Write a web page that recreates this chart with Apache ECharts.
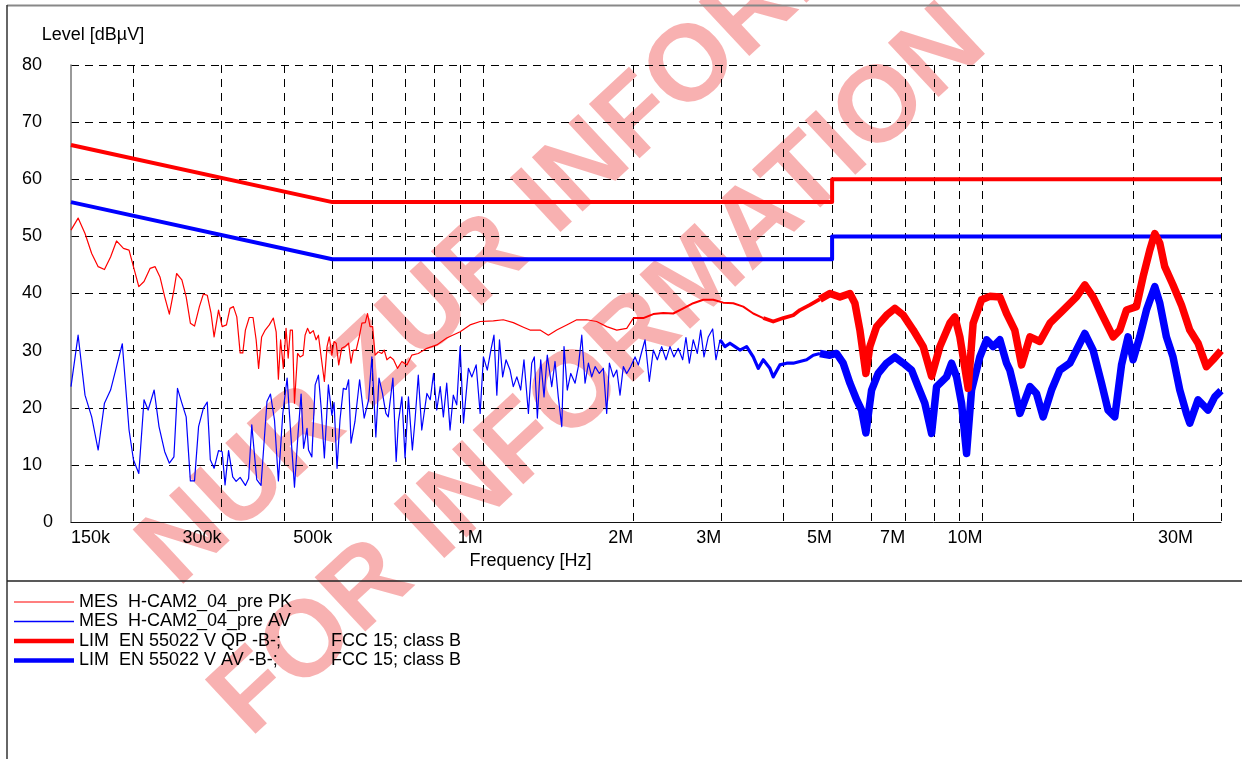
<!DOCTYPE html>
<html>
<head>
<meta charset="utf-8">
<script src="https://cdn.jsdelivr.net/npm/echarts/dist/echarts.min.js"></script>
<style>html,body{margin:0;padding:0;background:#fff}#c{width:1242px;height:759px}</style>
</head>
<body>
<div id="c"></div>
<script>
// ---------- data (frequency in MHz, level in dBµV) ----------
const pkFreq = [0.150,0.155,0.160,0.165,0.170,0.175,0.180,0.185,0.191,0.196,0.200,0.205,0.210,0.216,0.221,0.226,0.231,0.236,0.241,0.244,0.250,0.255,0.260,0.265,0.271,0.276,0.281,0.286,0.290,0.296,0.301,0.307,0.312,0.317,0.322,0.327,0.331,0.335,0.341,0.347,0.352,0.356,0.361,0.367,0.374,0.381,0.386,0.390,0.394,0.399,0.404,0.408,0.412,0.416,0.420,0.426,0.431,0.437,0.441,0.446,0.451,0.458,0.464,0.469,0.474,0.482,0.488,0.493,0.499,0.504,0.509,0.515,0.522,0.530,0.539,0.545,0.551,0.558,0.566,0.573,0.582,0.588,0.595,0.602,0.609,0.618,0.628,0.635,0.643,0.653,0.663,0.675,0.689,0.705,0.721,0.743,0.773,0.809,0.847,0.901,0.943,0.988,1.050,1.099,1.151,1.206,1.243,1.302,1.353,1.406,1.472,1.542,1.614,1.690,1.770,1.854,1.941,2.001,2.095,2.194,2.297,2.405,2.519,2.637,2.762,2.892,3.028,3.171,3.320,3.477,3.641,3.812,3.992,4.180,4.311,4.514,4.727,4.950,5.183,5.428,5.554,5.683,5.842,5.950,6.138,6.427,6.678,6.939,7.266,7.608,7.907,8.215,8.603,8.803,9.008,9.359,9.576,9.954,10.34,10.83,11.17,11.60,11.97,12.44,13.02,13.64,14.50,15.42,16.02,16.64,17.43,18.25,18.82,19.41,20.32,20.96,21.61,22.11,22.63,23.15,24.05,25.00,25.98,26.99,28.05,28.92,30.00];
const pkLevel = [51.1,53.2,50.5,47.0,44.7,44.2,46.4,49.2,47.9,47.6,44.7,41.2,42.1,44.4,44.7,42.9,39.4,36.4,40.6,43.5,42.4,39.4,34.8,34.3,37.7,39.9,39.7,36.5,32.4,37.1,34.2,34.5,37.4,37.7,35.9,29.6,29.6,33.6,35.8,35.8,31.9,26.9,32.4,33.6,34.5,35.7,33.3,25.0,31.9,26.9,33.9,28.7,33.6,33.6,20.8,29.5,28.9,29.2,32.7,33.9,33.0,33.5,31.9,32.7,29.5,24.6,30.7,32.4,29.2,31.6,31.3,27.5,30.4,30.7,31.3,27.8,30.1,30.1,32.4,34.8,34.9,36.5,34.2,34.2,29.2,29.8,29.5,30.1,28.4,28.9,28.4,26.9,28.1,27.5,29.2,29.5,30.4,31.0,32.2,33.3,34.5,35.1,35.2,35.4,34.9,34.1,33.6,33.6,32.7,33.6,34.5,35.4,35.4,35.1,34.2,33.6,33.9,35.7,35.7,36.4,36.6,36.5,37.4,38.3,38.9,38.9,38.4,38.3,37.7,36.5,35.7,35.1,35.7,36.2,37.1,38.0,39.0,40.0,39.4,40.0,38.3,33.6,26.0,30.7,34.2,36.2,37.4,36.2,33.6,30.7,25.5,30.7,34.8,35.9,32.4,23.4,34.8,38.9,39.5,39.4,36.5,33.6,27.5,32.4,31.6,34.8,37.1,39.4,41.5,39.4,35.9,32.4,33.6,37.1,37.7,43.0,47.6,50.5,48.8,44.7,41.5,38.0,33.6,31.3,27.2,28.4,30.0];

const avFreq = [0.150,0.155,0.160,0.165,0.170,0.175,0.180,0.185,0.190,0.196,0.200,0.205,0.210,0.214,0.220,0.225,0.231,0.236,0.241,0.245,0.250,0.255,0.260,0.265,0.270,0.276,0.281,0.285,0.290,0.296,0.301,0.305,0.310,0.316,0.321,0.327,0.335,0.340,0.345,0.353,0.360,0.370,0.376,0.383,0.390,0.398,0.406,0.412,0.420,0.427,0.433,0.438,0.445,0.448,0.455,0.462,0.469,0.475,0.482,0.491,0.499,0.504,0.511,0.518,0.526,0.533,0.539,0.545,0.555,0.567,0.579,0.591,0.600,0.611,0.620,0.630,0.640,0.647,0.661,0.671,0.678,0.689,0.699,0.710,0.723,0.732,0.743,0.755,0.773,0.785,0.797,0.809,0.822,0.834,0.847,0.860,0.873,0.887,0.901,0.915,0.936,0.951,0.970,0.988,1.003,1.021,1.038,1.053,1.067,1.080,1.096,1.113,1.134,1.151,1.170,1.191,1.209,1.234,1.253,1.268,1.286,1.306,1.326,1.346,1.374,1.395,1.416,1.439,1.454,1.476,1.500,1.530,1.553,1.578,1.602,1.627,1.652,1.678,1.711,1.743,1.770,1.792,1.825,1.854,1.882,1.911,1.941,1.977,2.017,2.048,2.080,2.112,2.154,2.194,2.235,2.280,2.326,2.369,2.413,2.461,2.512,2.550,2.590,2.637,2.687,2.729,2.771,2.826,2.884,2.928,2.983,3.052,3.123,3.196,3.270,3.373,3.477,3.558,3.641,3.754,3.812,3.931,4.055,4.180,4.311,4.446,4.584,4.727,4.950,5.105,5.262,5.428,5.598,5.728,5.842,5.998,6.183,6.427,6.678,6.939,7.211,7.431,7.664,7.907,8.091,8.472,8.670,8.872,9.078,9.290,9.506,9.876,10.19,10.50,10.83,11.17,11.34,11.60,11.88,12.44,12.82,13.22,13.74,14.28,14.95,15.42,16.02,16.64,17.30,17.83,18.39,18.97,19.55,20.01,20.63,21.28,22.11,22.63,23.33,24.05,24.81,25.59,25.98,26.99,28.26,29.15,30.00];
const avLevel = [23.7,32.7,22.2,18.4,12.6,20.8,23.1,27.2,31.2,16.1,10.9,8.5,21.4,19.6,23.1,16.7,12.3,10.3,11.4,23.4,20.8,18.4,7.2,7.2,16.7,19.9,21.0,10.9,9.4,12.5,12.3,6.5,12.5,7.9,7.1,7.8,6.4,7.6,17.0,7.4,6.4,21.1,22.4,17.9,7.2,19.0,25.2,16.7,6.1,15.5,22.4,12.9,16.4,12.6,11.4,24.0,25.7,19.9,11.2,24.0,18.7,20.9,9.4,17.9,23.4,23.2,24.9,13.8,17.6,24.9,18.2,21.4,28.9,14.9,25.2,22.5,19.0,18.4,25.2,10.6,17.6,21.9,11.2,21.9,12.6,17.9,25.7,16.1,22.5,21.4,26.0,19.6,23.7,18.4,24.3,16.1,22.2,20.5,30.7,17.3,26.9,25.4,27.5,19.0,28.9,26.6,30.1,32.7,22.2,31.9,25.4,28.4,26.6,23.7,25.4,23.1,28.4,19.0,27.8,28.9,18.2,28.4,21.9,29.2,23.7,28.1,21.9,16.7,30.7,23.1,26.0,24.3,27.2,32.7,24.3,27.8,25.4,27.2,26.0,26.9,19.0,27.8,25.4,26.6,22.2,27.2,26.0,27.2,28.9,27.5,29.8,31.9,24.6,30.1,28.4,30.7,28.4,30.7,28.9,30.4,28.4,32.3,27.8,31.9,29.5,33.6,28.9,32.4,33.8,28.4,31.9,30.7,31.3,30.7,30.1,30.7,28.9,26.9,28.4,26.9,25.4,27.5,27.8,27.8,28.1,28.4,29.2,29.5,29.2,29.5,27.8,24.3,21.4,19.6,15.6,23.1,26.0,27.8,28.9,27.8,26.6,23.7,20.8,15.5,23.7,25.4,27.8,25.4,20.8,12.0,23.1,28.9,31.9,30.7,31.9,27.8,26.6,23.1,19.0,23.7,22.5,18.4,23.1,26.6,27.8,30.1,33.0,30.1,24.3,19.6,18.4,27.5,32.4,28.4,32.4,37.1,41.2,38.3,32.4,28.9,23.1,19.0,17.3,21.4,19.6,21.9,23.0];

const qpLimFreq = [0.15, 0.5, 5, 5, 30];
const qpLimLevel = [66, 56, 56, 60, 60];
const avLimFreq = [0.15, 0.5, 5, 5, 30];
const avLimLevel = [56, 46, 46, 50, 50];

// axis ticks
const gridFreqHz = [2e5,3e5,4e5,5e5,6e5,7e5,8e5,9e5,1e6,2e6,3e6,4e6,5e6,6e6,7e6,8e6,9e6,1e7,2e7,3e7];
const xLabelFreqHz = [3e5,5e5,1e6,2e6,3e6,5e6,7e6,1e7,3e7];
const xLabelText = ['300k','500k','1M','2M','3M','5M','7M','10M','30M'];
const xFirstLabelHz = 1.5e5, xFirstLabelText = '150k';
const yMin = 0, yMax = 80, yStep = 10;

const NAME_PK = 'MES  H-CAM2_04_pre PK';
const NAME_AV = 'MES  H-CAM2_04_pre AV';
const NAME_QP = 'LIM  EN 55022 V QP -B-;';
const NAME_LAV = 'LIM  EN 55022 V AV -B-;';
const LIM_NOTE = 'FCC 15; class B';

// ---------- helpers ----------
const FONT = "'Liberation Sans', Arial, Helvetica, sans-serif";
const lg = f => Math.log10(f);
function pts(freqMHz, level, lo, hi) {
  const out = [];
  for (let i = 0; i < freqMHz.length; i++) {
    const f = freqMHz[i];
    if (f >= lo - 1e-9 && f <= hi + 1e-9) out.push([lg(f * 1e6), level[i]]);
  }
  return out;
}
function lineSeries(name, data, color, width, z) {
  return { name, type: 'line', data, symbol: 'none', showSymbol: false, z,
    lineStyle: { color, width, join: 'round' }, itemStyle: { color }, silent: true };
}
const RED = '#ff0000', BLUE = '#0000ff';

const series = [
  lineSeries(NAME_QP, pts(qpLimFreq, qpLimLevel, 0, 1e9), RED, 4, 2),
  lineSeries(NAME_LAV, pts(avLimFreq, avLimLevel, 0, 1e9), BLUE, 4, 2),
  // AV measurement (thin at low freq, the dense trace shows as a wider band upward)
  lineSeries(NAME_AV, pts(avFreq, avLevel, 0, 2.983), BLUE, 1.2, 3),
  lineSeries(NAME_AV, pts(avFreq, avLevel, 2.983, 4.727), BLUE, 3.2, 3),
  lineSeries(NAME_AV, pts(avFreq, avLevel, 4.727, 1e9), BLUE, 7.5, 3),
  // PK measurement
  lineSeries(NAME_PK, pts(pkFreq, pkLevel, 0, 2.001), RED, 1.2, 4),
  lineSeries(NAME_PK, pts(pkFreq, pkLevel, 2.001, 3.641), RED, 2, 4),
  lineSeries(NAME_PK, pts(pkFreq, pkLevel, 3.641, 4.727), RED, 3.8, 4),
  lineSeries(NAME_PK, pts(pkFreq, pkLevel, 4.727, 1e9), RED, 7.5, 4)
];

const xMin = lg(1.5e5), xMax = lg(3e7);
const gridVals = gridFreqHz.map(lg);
const labelVals = xLabelFreqHz.map(lg);
const WM_FILL = 'rgba(238,60,60,0.40)';

const chart = echarts.init(document.getElementById('c'), null, { renderer: 'canvas' });
chart.setOption({
  backgroundColor: '#ffffff',
  animation: false,
  textStyle: { fontFamily: FONT, color: '#000' },
  grid: { left: 71, top: 65, right: 21, bottom: 237, containLabel: false },
  xAxis: [{
    type: 'value', min: xMin, max: xMax,
    name: 'Frequency [Hz]', nameLocation: 'middle', nameGap: 30,
    nameTextStyle: { fontSize: 18, fontFamily: FONT, color: '#000', padding: [0, 231, 0, 0] },
    axisLine: { show: true, onZero: false, lineStyle: { color: '#111', width: 1 } },
    axisTick: { show: false, customValues: gridVals },
    splitLine: { show: true, customValues: gridVals, lineStyle: { color: '#000', width: 1, type: [8, 6] } },
    axisLabel: {
      customValues: labelVals, align: 'right', margin: 7, fontSize: 18, fontFamily: FONT, color: '#000',
      showMinLabel: true, showMaxLabel: true,
      formatter: v => {
        const i = labelVals.findIndex(t => Math.abs(t - v) < 1e-4);
        if (i < 0) return '';
        return i === labelVals.length - 1 ? '{e|' + xLabelText[i] + '}' : xLabelText[i];
      },
      rich: { e: { fontSize: 18, fontFamily: FONT, color: '#000', padding: [0, 28, 0, 0] } }
    }
  }, {
    type: 'value', min: xMin, max: xMax, position: 'bottom', gridIndex: 0,
    axisLine: { show: false }, axisTick: { show: false }, splitLine: { show: false },
    axisLabel: {
      customValues: [lg(xFirstLabelHz)], align: 'left', margin: 7, fontSize: 18, fontFamily: FONT, color: '#000',
      showMinLabel: true, formatter: () => xFirstLabelText
    }
  }],
  yAxis: {
    type: 'value', min: yMin, max: yMax, interval: yStep,
    name: 'Level [dBµV]', nameLocation: 'end', nameGap: 21,
    nameTextStyle: { fontSize: 18, fontFamily: FONT, color: '#000', align: 'center', padding: [0, 0, 0, 44] },
    axisLine: { show: true, lineStyle: { color: '#777', width: 1.5 } },
    axisTick: { show: false },
    splitLine: { show: true, lineStyle: { color: '#000', width: 1, type: [8, 6] } },
    axisLabel: {
      align: 'left', margin: 49, fontSize: 18, fontFamily: FONT, color: '#000',
      formatter: v => v === 0 ? '{z|0}' : String(v),
      rich: { z: { fontSize: 18, fontFamily: FONT, color: '#000', padding: [0, 0, 0, 21] } }
    }
  },
  legend: {
    orient: 'vertical', left: 14, top: 593, padding: 0, itemWidth: 60, itemHeight: 14, itemGap: 1.5,
    symbolKeepAspect: true, selectedMode: false,
    textStyle: { fontSize: 18, fontFamily: FONT, color: '#000', lineHeight: 18,
      rich: { a: { width: 252, fontSize: 18, fontFamily: FONT, color: '#000', lineHeight: 18 },
              b: { fontSize: 18, fontFamily: FONT, color: '#000', lineHeight: 18 } } },
    formatter: n => n.indexOf('LIM') === 0 ? '{a|' + n + '}{b|' + LIM_NOTE + '}' : n,
    data: [
      { name: NAME_PK, icon: 'path://M0,0H60V1.2H0Z' },
      { name: NAME_AV, icon: 'path://M0,0H60V1.6H0Z' },
      { name: NAME_QP, icon: 'path://M0,0H60V4.5H0Z' },
      { name: NAME_LAV, icon: 'path://M0,0H60V4.5H0Z' }
    ]
  },
  graphic: [
    { type: 'text', z: -5, silent: true, x: 622, y: 134, rotation: 43 * Math.PI / 180,
      style: { text: 'NUR ZUR INFORMATION', font: 'bold 108px ' + FONT, fill: WM_FILL,
               align: 'center', verticalAlign: 'middle', textAlign: 'center', textVerticalAlign: 'middle' } },
    { type: 'text', z: -5, silent: true, x: 600, y: 372, rotation: 43 * Math.PI / 180,
      style: { text: 'FOR INFORMATION', font: 'bold 108px ' + FONT, fill: WM_FILL,
               align: 'center', verticalAlign: 'middle', textAlign: 'center', textVerticalAlign: 'middle' } },
    { type: 'line', z: 10, silent: true, shape: { x1: 7, y1: 5.5, x2: 1240, y2: 5.5 }, style: { stroke: '#888', lineWidth: 2 } },
    { type: 'line', z: 10, silent: true, shape: { x1: 7, y1: 5, x2: 7, y2: 759 }, style: { stroke: '#333', lineWidth: 1.5 } },
    { type: 'line', z: 10, silent: true, shape: { x1: 7, y1: 581, x2: 1242, y2: 581 }, style: { stroke: '#222', lineWidth: 1.5 } }
  ],
  series
});
</script>
</body>
</html>
